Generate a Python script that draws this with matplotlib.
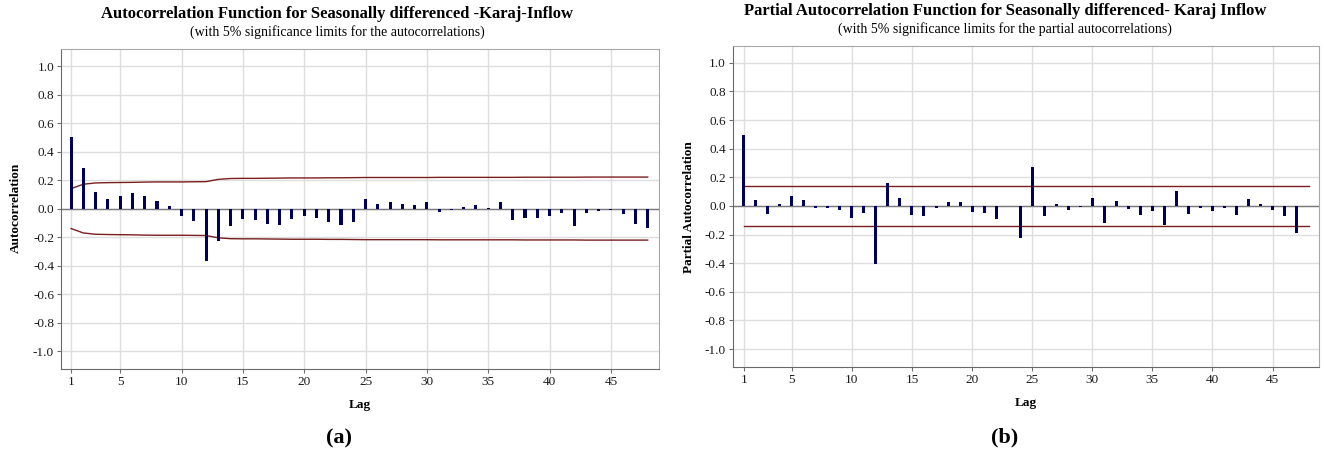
import matplotlib
matplotlib.use("Agg")
import matplotlib.pyplot as plt

plt.rcParams['font.family'] = ['Liberation Serif', 'DejaVu Serif']

# ACF of the seasonally differenced Karaj inflow, lags 1..48
acf_lags = list(range(1, 49))
acf_vals = [0.500, 0.285, 0.117, 0.065, 0.086, 0.107, 0.086, 0.054, 0.016, -0.054,
            -0.086, -0.367, -0.224, -0.121, -0.072, -0.079, -0.110, -0.117, -0.075, -0.051,
            -0.063, -0.091, -0.114, -0.093, 0.065, 0.035, 0.044, 0.033, 0.023, 0.049,
            -0.021, -0.007, 0.009, 0.028, 0.003, 0.047, -0.082, -0.063, -0.065, -0.049,
            -0.028, -0.121, -0.028, -0.016, -0.009, -0.035, -0.107, -0.133]
acf_limit = [0.140, 0.171, 0.180, 0.182, 0.183, 0.184, 0.186, 0.187, 0.187, 0.187,
             0.188, 0.189, 0.205, 0.211, 0.212, 0.212, 0.213, 0.214, 0.215, 0.215,
             0.215, 0.216, 0.216, 0.217, 0.218, 0.218, 0.218, 0.218, 0.218, 0.218,
             0.219, 0.219, 0.219, 0.219, 0.219, 0.219, 0.219, 0.220, 0.220, 0.220,
             0.220, 0.220, 0.221, 0.221, 0.221, 0.221, 0.221, 0.221]

# PACF, lags 1..47
pacf_lags = list(range(1, 48))
pacf_vals = [0.498, 0.040, -0.058, 0.016, 0.070, 0.044, -0.016, -0.012, -0.026, -0.084,
             -0.049, -0.405, 0.158, 0.056, -0.063, -0.067, -0.016, 0.030, 0.030, -0.042,
             -0.051, -0.093, -0.002, -0.224, 0.272, -0.067, 0.012, -0.026, -0.005, 0.053,
             -0.121, 0.037, -0.019, -0.063, -0.037, -0.130, 0.107, -0.056, -0.016, -0.035,
             -0.016, -0.065, 0.049, 0.012, -0.030, -0.070, -0.186]
pacf_limit = 0.142
pacf_limit_span = [1, 48]

xticks = [1, 5, 10, 15, 20, 25, 30, 35, 40, 45]
yticks = [-1.0, -0.8, -0.6, -0.4, -0.2, 0.0, 0.2, 0.4, 0.6, 0.8, 1.0]

BAR = '#000058'
LIMIT = '#7a1e1e'
GRID = '#dedede'


def style_axes(ax, xlim, ylim):
    ax.set_xlim(*xlim)
    ax.set_ylim(*ylim)
    ax.set_xticks(xticks)
    ax.set_yticks(yticks)
    ax.set_yticklabels([f'{v:.1f}' for v in yticks])
    ax.grid(True, color=GRID, lw=1.0)
    ax.set_axisbelow(True)
    ax.tick_params(axis='both', labelsize=9.5, length=3, width=0.8,
                   color='#707070', labelcolor='#1a1a1a', pad=2)
    for side in ['left', 'bottom']:
        ax.spines[side].set_color('#6a6a6a')
    for side in ['top', 'right']:
        ax.spines[side].set_color('#a8a8a8')
    ax.axhline(0, color='#7a7a7a', lw=1.0, zorder=1)


fig = plt.figure(figsize=(13.24, 4.5), dpi=100)

# (a) autocorrelation
ax1 = fig.add_axes([0.0461, 0.18, 0.4519, 0.7104])
style_axes(ax1, (0.18, 48.95), (-1.125, 1.117))
ax1.bar(acf_lags, acf_vals, width=0.25, color=BAR, zorder=3)
ax1.plot(acf_lags, acf_limit, color=LIMIT, lw=1.0, zorder=2)
ax1.plot(acf_lags, [-v for v in acf_limit], color=LIMIT, lw=1.0, zorder=2)

# (b) partial autocorrelation
ax2 = fig.add_axes([0.5534, 0.1844, 0.4428, 0.714])
style_axes(ax2, (0.085, 48.86), (-1.125, 1.119))
ax2.bar(pacf_lags, pacf_vals, width=0.25, color=BAR, zorder=3)
ax2.plot(pacf_limit_span, [pacf_limit, pacf_limit], color=LIMIT, lw=1.0, zorder=2)
ax2.plot(pacf_limit_span, [-pacf_limit, -pacf_limit], color=LIMIT, lw=1.0, zorder=2)

# titles and labels
fig.text(337 / 1324, 1 - 14 / 450, 'Autocorrelation Function for Seasonally differenced -Karaj-Inflow',
         ha='center', va='center', fontsize=12, fontweight='bold')
fig.text(337 / 1324, 1 - 32 / 450, '(with 5% significance limits for the autocorrelations)',
         ha='center', va='center', fontsize=10)
fig.text(1005 / 1324, 1 - 11 / 450, 'Partial Autocorrelation Function for Seasonally differenced- Karaj Inflow',
         ha='center', va='center', fontsize=12, fontweight='bold')
fig.text(1005 / 1324, 1 - 29 / 450, '(with 5% significance limits for the partial autocorrelations)',
         ha='center', va='center', fontsize=10)

fig.text(16 / 1324, 1 - 208 / 450, 'Autocorrelation', rotation=90,
         ha='center', va='center', fontsize=9.5, fontweight='bold')
fig.text(689 / 1324, 1 - 207 / 450, 'Partial Autocorrelation', rotation=90,
         ha='center', va='center', fontsize=9.5, fontweight='bold')

fig.text(360 / 1324, 1 - 405 / 450, 'Lag', ha='center', va='center',
         fontsize=9.5, fontweight='bold')
fig.text(1026 / 1324, 1 - 403 / 450, 'Lag', ha='center', va='center',
         fontsize=9.5, fontweight='bold')

fig.text(339 / 1324, 1 - 438 / 450, '(a)', ha='center', va='center',
         fontsize=16, fontweight='bold')
fig.text(1005 / 1324, 1 - 437 / 450, '(b)', ha='center', va='center',
         fontsize=16, fontweight='bold')

fig.savefig('out.png', dpi=100)
